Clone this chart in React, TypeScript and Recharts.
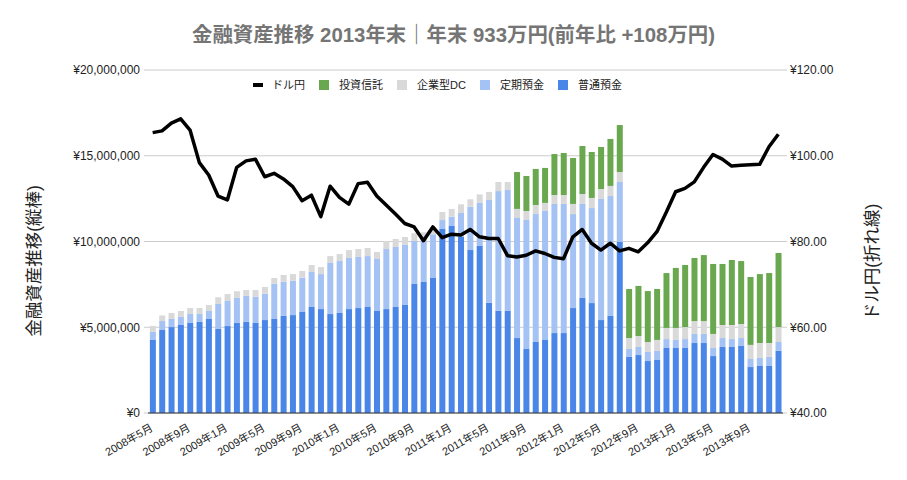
import {
  Bar,
  CartesianGrid,
  ComposedChart,
  Line,
  XAxis,
  YAxis,
} from "recharts";

const FONT = "'Liberation Sans', Arial, 'Noto Sans CJK JP', sans-serif";

// monthly labels, 2008年5月 .. 2013年12月
const months: string[] = [];
for (let y = 2008, m = 5; y < 2014; m++) {
  if (m > 12) {
    m = 1;
    y++;
    if (y === 2014) break;
  }
  months.push(`${y}年${m}月`);
}

// values in 万円
const futsu = [
  426, 484, 501, 513, 525, 531, 548, 490, 507, 525, 531, 525, 542, 548, 566,
  571, 589, 618, 606, 577, 583, 606, 612, 618, 595, 606, 618, 630, 752, 764,
  787, 1073, 1090, 1028, 950, 974, 643, 597, 597, 437, 373, 414, 426, 466, 466,
  612, 671, 641, 542, 566, 997, 327, 338, 303, 309, 379, 379, 379, 408, 408,
  332, 385, 385, 391, 268, 274, 274, 362,
];
const teiki = [
  47, 52, 47, 47, 52, 46, 47, 146, 146, 146, 153, 153, 154, 206, 200, 200, 200,
  204, 204, 298, 303, 298, 298, 297, 303, 350, 350, 350, 251, 250, 255, 52, 55,
  138, 253, 251, 599, 697, 703, 700, 752, 746, 752, 753, 753, 548, 548, 554,
  706, 699, 350, 46, 47, 53, 53, 52, 47, 52, 53, 53, 47, 52, 46, 46, 47, 47,
  53, 52,
];
const dc = [
  35, 33, 35, 35, 35, 35, 35, 39, 41, 39, 33, 39, 39, 33, 39, 39, 39, 41, 41,
  40, 41, 46, 46, 47, 41, 47, 47, 46, 45, 40, 42, 47, 45, 51, 43, 50, 47, 53,
  47, 53, 53, 53, 47, 52, 52, 59, 58, 59, 58, 59, 58, 64, 64, 58, 64, 65, 70,
  70, 75, 75, 82, 76, 82, 82, 82, 87, 81, 87,
];
const toshin = [
  0, 0, 0, 0, 0, 0, 0, 0, 0, 0, 0, 0, 0, 0, 0, 0, 0, 0, 0, 0, 0, 0, 0, 0, 0, 0,
  0, 0, 0, 0, 0, 0, 0, 0, 0, 0, 0, 0, 0, 215, 204, 210, 204, 239, 245, 268,
  280, 268, 245, 274, 274, 286, 292, 297, 297, 320, 350, 362, 368, 385, 408,
  356, 379, 367, 396, 402, 408, 432,
];
const usdjpy = [
  105.4, 105.8, 107.6, 108.6, 106.0, 98.4, 95.5, 90.6, 89.7, 97.3, 98.8, 99.2,
  95.1, 95.9, 94.6, 92.8, 89.5, 90.8, 85.8, 92.9, 90.3, 88.7, 93.5, 93.8, 90.6,
  88.5, 86.4, 84.2, 83.4, 80.2, 83.4, 80.9, 81.7, 81.5, 82.8, 81.1, 80.7, 80.7,
  76.7, 76.4, 76.8, 77.8, 77.2, 76.3, 76.0, 81.1, 82.8, 79.6, 78.0, 79.6, 77.8,
  78.4, 77.6, 79.7, 82.3, 86.8, 91.6, 92.4, 93.9, 97.3, 100.3, 99.2, 97.6,
  97.8, 97.9, 98.0, 102.1, 105.0,
];

const leftTicks = [0, 5000000, 10000000, 15000000, 20000000];
const rightTicks = [40, 60, 80, 100, 120];

const COLORS = {
  futsu: "#4a86e8",
  teiki: "#a4c2f4",
  dc: "#d9d9d9",
  toshin: "#6aa84f",
};

const data = months.map((month, i) => ({
  month,
  futsu: futsu[i] * 10000,
  teiki: teiki[i] * 10000,
  dc: dc[i] * 10000,
  toshin: toshin[i] * 10000,
  usdjpy: usdjpy[i],
}));

const legendItems = [
  { label: "ドル円", color: "#000", line: true },
  { label: "投資信託", color: COLORS.toshin },
  { label: "企業型DC", color: COLORS.dc },
  { label: "定期預金", color: COLORS.teiki },
  { label: "普通預金", color: COLORS.futsu },
];

const XTick = (props: any) => {
  const { x, y, payload } = props;
  return (
    <g transform={`translate(${x + 1},${y + 9})`}>
      <text
        textAnchor="end"
        transform="rotate(-30)"
        fontSize={11}
        fill="#222"
        fontFamily={FONT}
      >
        {payload.value}
      </text>
    </g>
  );
};

export default function App() {
  return (
    <div
      style={{
        position: "absolute",
        left: 0,
        top: 0,
        width: 907,
        height: 480,
        background: "#fff",
        fontFamily: FONT,
      }}
    >
      <ComposedChart
        width={907}
        height={480}
        data={data}
        margin={{ top: 70, right: 54, bottom: 7, left: 48 }}
        barCategoryGap="20%"
      >
        <CartesianGrid vertical={false} stroke="#cccccc" yAxisId="left" />
        <XAxis
          dataKey="month"
          interval={3}
          height={60}
          tickLine={false}
          axisLine={{ stroke: "#333" }}
          tick={<XTick />}
        />
        <YAxis
          yAxisId="left"
          width={100}
          domain={[0, 20000000]}
          ticks={leftTicks}
          axisLine={false}
          tickLine={{ stroke: "#ccc" }}
          tickSize={4}
          tickMargin={4}
          tick={{ fontSize: 12, fill: "#222", fontFamily: FONT }}
          tickFormatter={(v: number) => "¥" + v.toLocaleString("en-US")}
        />
        <YAxis
          yAxisId="right"
          orientation="right"
          width={70}
          domain={[40, 120]}
          ticks={rightTicks}
          axisLine={false}
          tickLine={{ stroke: "#ccc" }}
          tickSize={4}
          tickMargin={3}
          tick={{ fontSize: 12, fill: "#222", fontFamily: FONT }}
          tickFormatter={(v: number) => "¥" + v.toFixed(2)}
        />
        <Bar yAxisId="left" dataKey="futsu" stackId="a" fill={COLORS.futsu} isAnimationActive={false} />
        <Bar yAxisId="left" dataKey="teiki" stackId="a" fill={COLORS.teiki} isAnimationActive={false} />
        <Bar yAxisId="left" dataKey="dc" stackId="a" fill={COLORS.dc} isAnimationActive={false} />
        <Bar yAxisId="left" dataKey="toshin" stackId="a" fill={COLORS.toshin} isAnimationActive={false} />
        <Line
          yAxisId="right"
          type="linear"
          dataKey="usdjpy"
          stroke="#000"
          strokeWidth={3.5}
          strokeLinejoin="round"
          dot={false}
          isAnimationActive={false}
        />
      </ComposedChart>

      <div
        style={{
          position: "absolute",
          top: 24,
          left: 0,
          width: 907,
          textAlign: "center",
          fontSize: 20.4,
          lineHeight: "23px",
          fontWeight: "bold",
          color: "#757575",
        }}
      >
        金融資産推移 2013年末｜年末 933万円(前年比 +108万円)
      </div>

      <div
        style={{
          position: "absolute",
          top: 78,
          left: 253,
          display: "flex",
          alignItems: "center",
          fontSize: 11,
          lineHeight: "14px",
          color: "#222",
        }}
      >
        {legendItems.map((it) => (
          <div
            key={it.label}
            style={{ display: "flex", alignItems: "center", marginRight: 14 }}
          >
            <span
              style={{
                display: "inline-block",
                width: 10,
                height: it.line ? 4 : 10,
                background: it.color,
                marginRight: it.line ? 9 : 10,
              }}
            />
            <span>{it.label}</span>
          </div>
        ))}
      </div>

      <svg
        width={907}
        height={480}
        style={{ position: "absolute", left: 0, top: 0, pointerEvents: "none" }}
      >
        <text
          transform="translate(34,261) rotate(-90)"
          textAnchor="middle"
          dominantBaseline="central"
          fontSize={17.5}
          fill="#222"
          fontFamily={FONT}
        >
          金融資産推移(縦棒)
        </text>
        <text
          transform="translate(872,262) rotate(-90)"
          textAnchor="middle"
          dominantBaseline="central"
          fontSize={17.5}
          fill="#222"
          fontFamily={FONT}
        >
          ドル円(折れ線)
        </text>
      </svg>
    </div>
  );
}
